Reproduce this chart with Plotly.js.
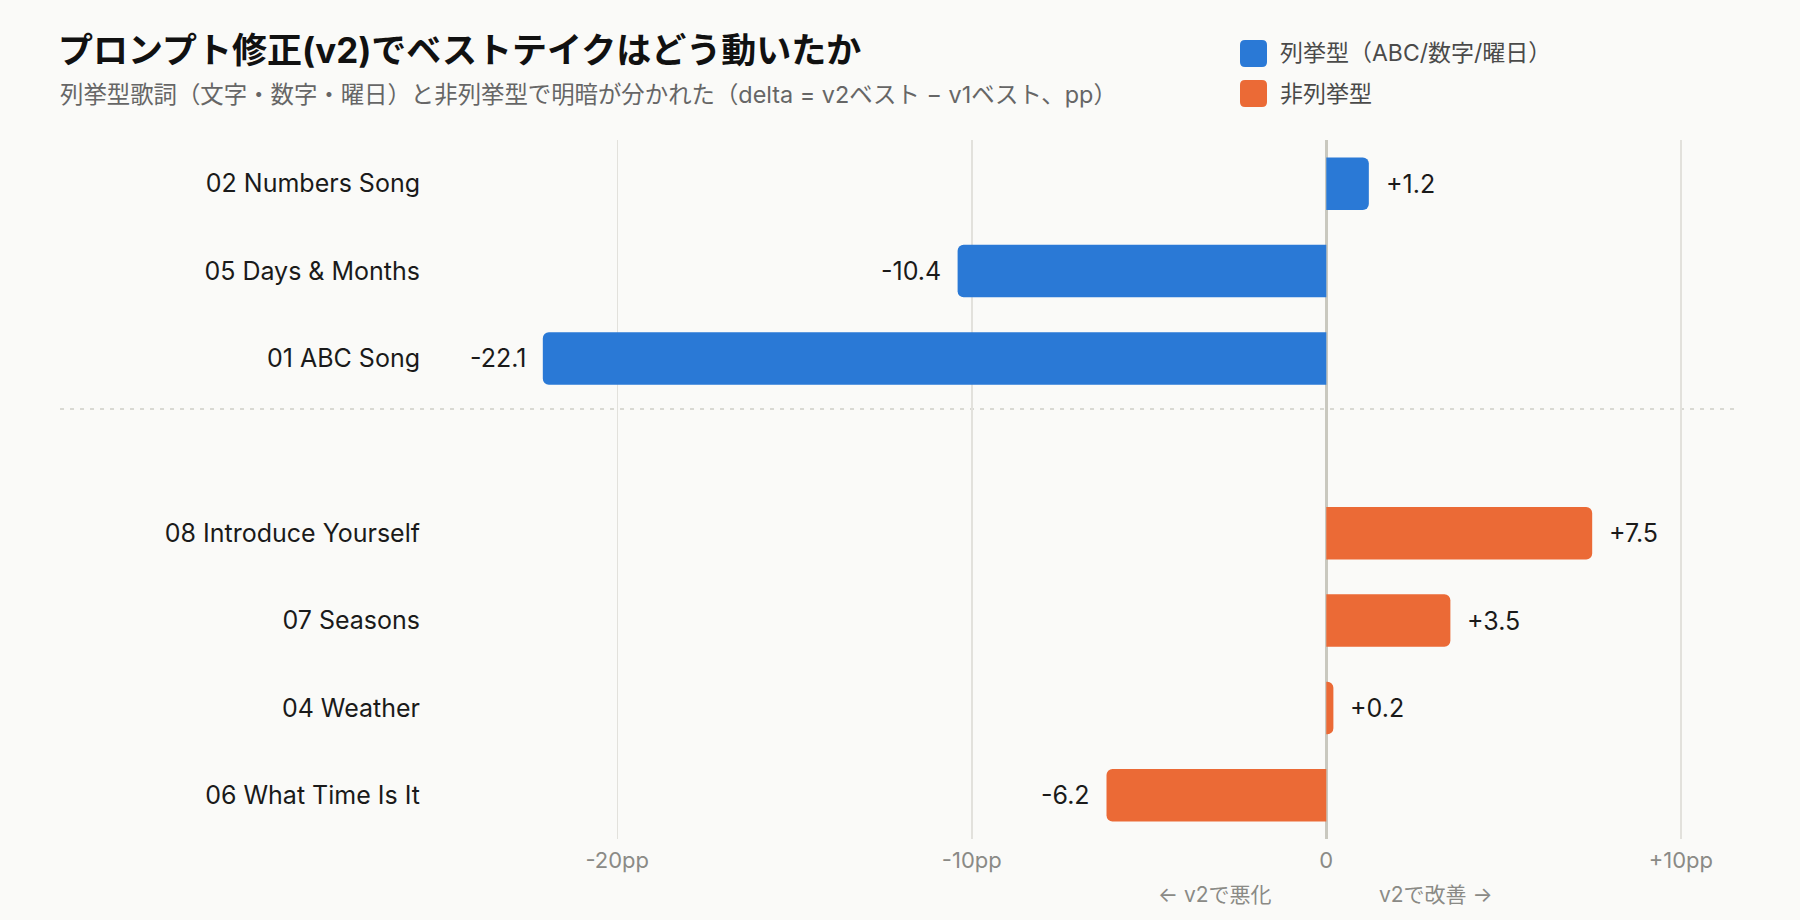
<!DOCTYPE html>
<html>
<head>
<meta charset="utf-8">
<script src="https://cdn.plot.ly/plotly-3.0.1.min.js"></script>
<style>
  html, body { margin: 0; padding: 0; background: #fafaf8; }
  #chart { width: 1800px; height: 920px; }
</style>
</head>
<body>
<div id="chart"></div>
<script>
// Songs, top to bottom, with the change of best take (pp) between prompt v1 and v2
const categories = ['02 Numbers Song', '05 Days & Months', '01 ABC Song',
                    '08 Introduce Yourself', '07 Seasons', '04 Weather', '06 What Time Is It'];
const deltas = [1.2, -10.4, -22.1, 7.5, 3.5, 0.2, -6.2];
const groups = ['enum', 'enum', 'enum', 'other', 'other', 'other', 'other'];
const rowPos = [7, 6, 5, 3, 2, 1, 0];

const groupKeys = ['enum', 'other'];
const seriesNames = ['列挙型（ABC/数字/曜日）', '非列挙型'];
const seriesColors = ['#2a79d6', '#eb6a36'];

const xTickVals = [-20, -10, 0, 10];
const xTickText = ['-20pp', '-10pp', '0', '+10pp'];

const titleText = 'プロンプト修正(v2)でベストテイクはどう動いたか';
const subtitleText = '列挙型歌詞（文字・数字・曜日）と非列挙型で明暗が分かれた（delta = v2ベスト − v1ベスト、pp）';
const worseText = '← v2で悪化';
const betterText = 'v2で改善 →';

// plot-area geometry (pixels)
const W = 1800, H = 920;
const M = { l: 440, r: 66, t: 140, b: 81 };
const PW = W - M.l - M.r, PH = H - M.t - M.b;
const px = x => (x - M.l) / PW;            // pixel x -> paper x
const py = y => (M.t + PH - y) / PH;       // pixel y -> paper y

const FONT = "Inter, 'Noto Sans CJK JP', sans-serif";

const traces = groupKeys.map((g, gi) => {
  const idx = groups.map((v, i) => v === g ? i : -1).filter(i => i >= 0);
  return {
    type: 'bar',
    orientation: 'h',
    name: seriesNames[gi],
    x: idx.map(i => deltas[i]),
    y: idx.map(i => rowPos[i]),
    width: 0.6,
    marker: { color: seriesColors[gi], cornerradius: 6, line: { width: 0 } },
    hoverinfo: 'x+y',
    showlegend: false
  };
});

const annotations = [];

// value labels next to each bar end
deltas.forEach((v, i) => {
  annotations.push({
    x: v, y: rowPos[i], xref: 'x', yref: 'y',
    text: (v > 0 ? '+' : '') + v.toFixed(1),
    xanchor: v >= 0 ? 'left' : 'right', yanchor: 'middle',
    xshift: v >= 0 ? 15 : -15,
    showarrow: false,
    font: { family: FONT, size: 25, color: '#1a1a1a' }
  });
});

// subtitle
annotations.push({
  x: px(58), y: py(94), xref: 'paper', yref: 'paper',
  text: subtitleText, xanchor: 'left', yanchor: 'middle', showarrow: false,
  font: { family: FONT, size: 23.4, color: '#666666' }
});

// direction hints under the zero line
annotations.push({
  x: 0, y: py(894), xref: 'x', yref: 'paper', text: worseText,
  xanchor: 'right', yanchor: 'middle', xshift: -52, showarrow: false,
  font: { family: FONT, size: 21, color: '#8a8a86' }
});
annotations.push({
  x: 0, y: py(894), xref: 'x', yref: 'paper', text: betterText,
  xanchor: 'left', yanchor: 'middle', xshift: 51, showarrow: false,
  font: { family: FONT, size: 21, color: '#8a8a86' }
});

// legend: rounded swatches plus labels
const shapes = [];
function roundedRect(x0, y0, x1, y1, r) {
  const P = (x, y) => px(x) + ',' + py(y);
  return 'M' + P(x0 + r, y0) + ' L' + P(x1 - r, y0) +
         ' Q' + P(x1, y0) + ' ' + P(x1, y0 + r) +
         ' L' + P(x1, y1 - r) +
         ' Q' + P(x1, y1) + ' ' + P(x1 - r, y1) +
         ' L' + P(x0 + r, y1) +
         ' Q' + P(x0, y1) + ' ' + P(x0, y1 - r) +
         ' L' + P(x0, y0 + r) +
         ' Q' + P(x0, y0) + ' ' + P(x0 + r, y0) + ' Z';
}
seriesNames.forEach((name, i) => {
  const cy = 53.5 + i * 40;
  shapes.push({
    type: 'path', xref: 'paper', yref: 'paper',
    path: roundedRect(1240, cy - 13.5, 1267, cy + 13.5, 5),
    fillcolor: seriesColors[i], line: { width: 0 }
  });
  annotations.push({
    x: px(1278), y: py(cy), xref: 'paper', yref: 'paper', text: name,
    xanchor: 'left', yanchor: 'middle', showarrow: false,
    font: { family: FONT, size: 23, color: '#4a4a4a' }
  });
});

// dotted divider between the two song groups
shapes.push({
  type: 'line', xref: 'paper', yref: 'y',
  x0: px(60), x1: 1, y0: 4.42, y1: 4.42,
  line: { color: '#d9d9d3', width: 2, dash: '4px,6px' },
  layer: 'below'
});

const layout = {
  width: W, height: H,
  margin: M,
  paper_bgcolor: '#fafaf8',
  plot_bgcolor: '#fafaf8',
  bargap: 0.4,
  title: {
    text: '<b>' + titleText + '</b>',
    xref: 'container', yref: 'container',
    x: 58 / W, xanchor: 'left',
    y: 1 - 51 / H, yanchor: 'middle',
    font: { family: FONT, size: 35, color: '#111111' }
  },
  xaxis: {
    range: [-25, 11.5],
    tickvals: xTickVals, ticktext: xTickText,
    tickfont: { family: FONT, size: 22, color: '#8a8a86' },
    ticklabelstandoff: 6,
    showgrid: true, gridcolor: '#e2e1dc', gridwidth: 1.5,
    zeroline: true, zerolinecolor: '#c9c8bf', zerolinewidth: 3,
    showline: false, ticks: '',
    fixedrange: true
  },
  yaxis: {
    range: [-0.5, 7.5],
    tickvals: rowPos, ticktext: categories,
    tickfont: { family: FONT, size: 25, color: '#1a1a1a' },
    ticklabelstandoff: 19,
    showgrid: false, zeroline: false, showline: false, ticks: '',
    fixedrange: true
  },
  shapes: shapes,
  annotations: annotations,
  showlegend: false
};

Plotly.newPlot('chart', traces, layout, { displayModeBar: false, staticPlot: true });
</script>
</body>
</html>
